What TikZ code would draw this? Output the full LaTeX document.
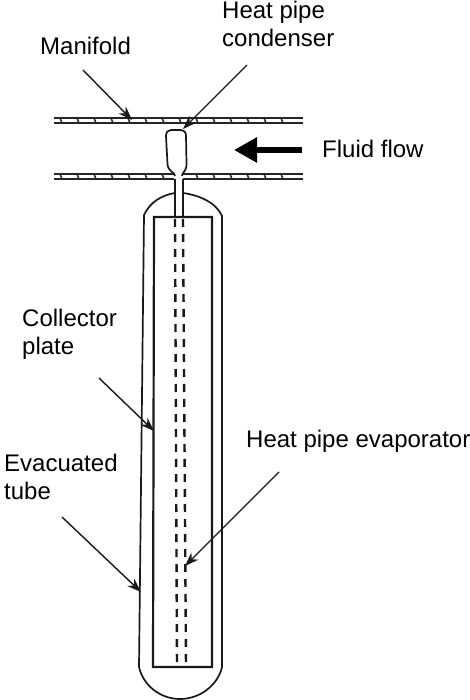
\documentclass[tikz,border=0pt]{standalone}
\usepackage{fontspec}
\setmainfont{Liberation Sans}
\usetikzlibrary{arrows.meta}
\tikzset{
 lbl/.style={inner sep=0pt,align=left,anchor=north west,font=\fontsize{24}{28}\selectfont},
 ln/.style={line width=1.7pt,black!90},
 thickwall/.style={line width=2.2pt,black!90},
 wallline/.style={line width=1.6pt,black!85},
 lead/.style={line width=1.4pt,black!90,-{Stealth[length=14pt,width=10pt]}},
 hatch/.style={line width=1.5pt,black!85},
 pipedash/.style={line width=2.4pt,black!90,dash pattern=on 8pt off 7pt},
}
\begin{document}
\begin{tikzpicture}[x=1pt,y=-1pt]
\useasboundingbox (0,0) rectangle (470,700);
\fill[white] (0,0) rectangle (470,700);
% labels
\node[lbl] (man) at (40,34.4) {\strut Manifold};
\node[lbl] (cond) at (222,-1.6) {\strut Heat pipe\\\strut condenser};
\node[lbl] (flow) at (322,137.4) {\strut Fluid flow};
\node[lbl] (coll) at (22,306.4) {\strut Collector\\\strut plate};
\node[lbl] (evac) at (4,451.4) {\strut Evacuated\\\strut tube};
\node[lbl] (evap) at (246,427.4) {\strut Heat pipe evaporator};
% manifold walls
\foreach \y/\n in {118/a,174/b}{
 \draw[wallline] (54,\y) -- (303,\y);
 \draw[wallline] (54,\y+5) -- (303,\y+5);
 \foreach \x in {60,77,...,296}
  \draw[hatch] (\x,\y) -- (\x+2,\y+5);
}
% condenser
\fill[white] (174,172) rectangle (183,180);
\draw[ln] (175,176) .. controls (175,172) and (168,172) .. (167.5,164) -- (166,136) .. controls (166,132) and (168,130) .. (171,130) -- (181,130) .. controls (184,130) and (186,132) .. (186,136) -- (186.5,164) .. controls (186.5,172) and (182,172) .. (182,176);
% tube and plate
\draw[ln] (175,179) -- (175,217);
\draw[ln] (183,179) -- (183,217);
\draw[ln] (144,215) .. controls (150,202) and (162,195) .. (175,193);
\draw[ln] (183,193) .. controls (198,195) and (216,202) .. (222,216) -- (222,667) .. controls (218,685) and (200,699) .. (180,699) .. controls (160,699) and (143,685) .. (139,667) -- (144,215);
\draw[thickwall] (154,217) -- (212,217) -- (212,667) -- (153,667) -- cycle;
% heat pipe
\draw[pipedash] (175,219) -- (177,667);
\draw[pipedash] (183,219) -- (186,667);
% arrows
\coordinate (manT) at (132,120);
\coordinate (condT) at (183,129);
\coordinate (collT) at (154,431);
\coordinate (evacT) at (141,592);
\coordinate (evapT) at (185,566);
\coordinate (flowS) at (302,150);
\coordinate (flowT) at (234,150);
\draw[lead] (83,70) -- (manT);
\draw[lead] (247,65) -- (condT);
\draw[lead] (99,378) -- (collT);
\draw[lead] (62,517) -- (evacT);
\draw[lead] (279,472) -- (evapT);
\draw[line width=6pt,black,-{Triangle[length=23pt,width=24pt]}] (flowS) -- (flowT);
\end{tikzpicture}
\end{document}
